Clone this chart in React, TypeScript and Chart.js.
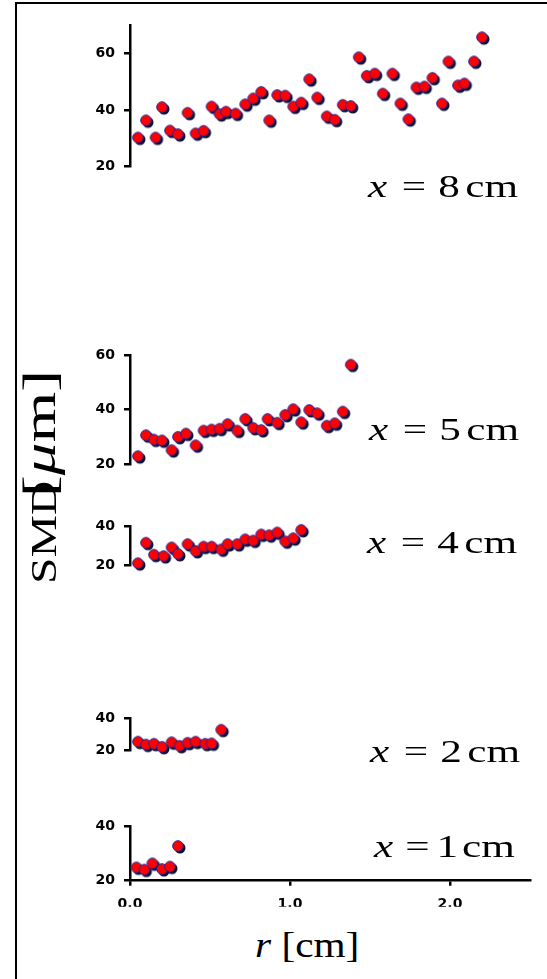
import React, { useEffect, useRef } from 'react';
import { Chart, registerables } from 'chart.js';

Chart.register(...registerables);

// ---------- data ----------
const DISTANCES_CM = ['8', '5', '4', '2', '1'];

const R_8CM = [0.05, 0.10, 0.16, 0.20, 0.25, 0.30, 0.36, 0.41, 0.46, 0.51, 0.56, 0.60, 0.66, 0.72, 0.77, 0.82, 0.87, 0.92, 0.97, 1.02, 1.07, 1.12, 1.17, 1.23, 1.28, 1.33, 1.38, 1.43, 1.48, 1.53, 1.58, 1.64, 1.69, 1.74, 1.79, 1.84, 1.89, 1.95, 1.99, 2.05, 2.09, 2.15, 2.20];
const SMD_8CM = [30.2, 36.3, 30.2, 41.0, 32.7, 31.4, 39.0, 31.7, 32.6, 41.2, 38.5, 39.4, 38.7, 42.0, 44.1, 46.4, 36.3, 45.3, 45.1, 41.2, 42.6, 50.9, 44.4, 37.7, 36.5, 41.8, 41.4, 58.7, 52.1, 52.9, 45.8, 52.9, 42.3, 36.7, 48.0, 48.3, 51.4, 42.3, 57.2, 48.7, 49.4, 57.2, 65.8];

const R_5CM = [0.05, 0.10, 0.15, 0.20, 0.26, 0.30, 0.35, 0.41, 0.46, 0.51, 0.56, 0.61, 0.67, 0.72, 0.77, 0.82, 0.86, 0.92, 0.97, 1.02, 1.07, 1.12, 1.17, 1.23, 1.28, 1.33, 1.38];
const SMD_5CM = [22.9, 30.6, 29.0, 28.7, 25.1, 30.0, 31.2, 26.9, 32.3, 32.7, 33.0, 34.7, 32.3, 36.6, 33.3, 32.5, 36.6, 35.2, 38.1, 40.2, 35.4, 39.9, 38.7, 34.1, 35.0, 39.3, 56.6];

const R_4CM = [0.05, 0.10, 0.15, 0.21, 0.26, 0.30, 0.36, 0.41, 0.46, 0.51, 0.57, 0.61, 0.67, 0.72, 0.77, 0.82, 0.87, 0.92, 0.97, 1.02, 1.07];
const SMD_4CM = [21.3, 31.7, 25.6, 24.9, 29.3, 26.0, 31.0, 27.5, 29.7, 29.7, 28.3, 31.0, 31.0, 33.4, 32.8, 35.9, 35.5, 36.9, 32.4, 34.0, 38.2];

const R_2CM = [0.05, 0.10, 0.15, 0.20, 0.26, 0.31, 0.36, 0.41, 0.47, 0.51, 0.57];
const SMD_2CM = [25.6, 23.8, 24.3, 22.4, 25.2, 23.0, 24.9, 25.6, 24.3, 24.5, 33.0];

const R_1CM = [0.04, 0.09, 0.14, 0.20, 0.25, 0.30];
const SMD_1CM = [24.9, 24.1, 26.4, 24.3, 25.2, 32.8];

const X_TICKS = [0, 1, 2];
const Y_TICKS_TALL = [20, 40, 60];
const Y_TICKS_SHORT = [20, 40];

// ---------- layout / style ----------
const PAGE_W = 547;
const PAGE_H = 979;
const AXIS_LEFT = 130;
const AREA_RIGHT = 530;
const X_AXIS_H = 26;
const SERIF = '"Liberation Serif", "Times New Roman", serif';
const TICK_FONT = { family: '"DejaVu Sans", Arial, sans-serif', size: 14, weight: 'bold' as const };

type PanelDef = {
  r: number[];
  smd: number[];
  yMin: number;
  yMax: number;
  yTicks: number[];
  areaTop: number;
  areaBottom: number;
  showX: boolean;
  label: string;
  labelLeft: number;
  labelBaseline: number;
  gaps: number[];
};

const PANELS: PanelDef[] = [
  { r: R_8CM, smd: SMD_8CM, yMin: 20, yMax: 70, yTicks: Y_TICKS_TALL, areaTop: 22, areaBottom: 192.3, showX: false, label: DISTANCES_CM[0], labelLeft: 368, labelBaseline: 196.7, gaps: [10.8, 9, 4] },
  { r: R_5CM, smd: SMD_5CM, yMin: 20, yMax: 60, yTicks: Y_TICKS_TALL, areaTop: 352, areaBottom: 490, showX: false, label: DISTANCES_CM[1], labelLeft: 369, labelBaseline: 439.3, gaps: [10.8, 9, 4] },
  { r: R_4CM, smd: SMD_4CM, yMin: 20, yMax: 40, yTicks: Y_TICKS_SHORT, areaTop: 523.3, areaBottom: 591.7, showX: false, label: DISTANCES_CM[2], labelLeft: 367, labelBaseline: 552.7, gaps: [10.8, 9, 4] },
  { r: R_2CM, smd: SMD_2CM, yMin: 20, yMax: 40, yTicks: Y_TICKS_SHORT, areaTop: 715, areaBottom: 776.7, showX: false, label: DISTANCES_CM[3], labelLeft: 370, labelBaseline: 761.7, gaps: [10.8, 9, 4] },
  { r: R_1CM, smd: SMD_1CM, yMin: 20, yMax: 40, yTicks: Y_TICKS_SHORT, areaTop: 823.3, areaBottom: 880.7, showX: true, label: DISTANCES_CM[4], labelLeft: 374, labelBaseline: 856.7, gaps: [9, 5, 3] },
];

let dotCache: HTMLCanvasElement | null = null;
function getDot(): HTMLCanvasElement {
  if (dotCache) return dotCache;
  const c = document.createElement('canvas');
  c.width = 18;
  c.height = 18;
  const g = c.getContext('2d')!;
  g.fillStyle = '#0c1233';
  g.beginPath();
  g.arc(11, 11, 5.5, 0, Math.PI * 2);
  g.fill();
  g.fillStyle = '#ff0000';
  g.strokeStyle = '#26269a';
  g.lineWidth = 1;
  g.beginPath();
  g.arc(9, 9, 5.3, 0, Math.PI * 2);
  g.fill();
  g.stroke();
  dotCache = c;
  return c;
}

function Panel({ def }: { def: PanelDef }) {
  const ref = useRef<HTMLCanvasElement>(null);
  const canvasTop = Math.floor(def.areaTop - 14);
  const xAxisH = def.showX ? X_AXIS_H : 0;
  const height = Math.ceil(def.areaBottom - canvasTop + xAxisH + (def.showX ? 6 : 14));

  useEffect(() => {
    const padTop = def.areaTop - canvasTop;
    const padBottom = height - (def.areaBottom - canvasTop) - xAxisH;
    const gridOpts = { display: true, drawOnChartArea: false, drawTicks: true, color: '#000', lineWidth: 2.5 };
    const chart = new Chart(ref.current!, {
      type: 'scatter',
      data: {
        datasets: [
          {
            data: def.r.map((x, i) => ({ x, y: def.smd[i] })),
            pointStyle: getDot() as any,
            pointRadius: 6,
            clip: false as any,
          },
        ],
      },
      options: {
        animation: false,
        responsive: false,
        events: [],
        layout: { padding: { left: 0, right: PAGE_W - AREA_RIGHT, top: padTop, bottom: padBottom } },
        plugins: { legend: { display: false }, tooltip: { enabled: false } },
        scales: {
          x: {
            type: 'linear',
            min: 0,
            max: 2.5,
            display: def.showX,
            afterFit: (s: any) => { s.height = X_AXIS_H; },
            afterBuildTicks: (s: any) => { s.ticks = X_TICKS.map((v) => ({ value: v })); },
            ticks: { callback: (v: any) => Number(v).toFixed(1), font: TICK_FONT, color: '#000', padding: 10, maxRotation: 0 },
            grid: { ...gridOpts, tickLength: 5 },
            border: { display: true, color: '#000', width: 2.5 },
          },
          y: {
            type: 'linear',
            min: def.yMin,
            max: def.yMax,
            afterFit: (s: any) => { s.width = AXIS_LEFT; },
            afterBuildTicks: (s: any) => { s.ticks = def.yTicks.map((v) => ({ value: v })); },
            ticks: { font: TICK_FONT, color: '#000', padding: 9 },
            grid: { ...gridOpts, tickLength: 6 },
            border: { display: true, color: '#000', width: 2.5 },
          },
        },
      },
    });
    return () => chart.destroy();
  }, []);

  return (
    <canvas
      ref={ref}
      width={PAGE_W}
      height={height}
      style={{ position: 'absolute', left: 0, top: canvasTop, width: PAGE_W, height }}
    />
  );
}

function PanelLabel({ def }: { def: PanelDef }) {
  const F = 32;
  return (
    <div
      style={{
        position: 'absolute',
        left: def.labelLeft,
        top: def.labelBaseline - 0.8375 * F,
        fontFamily: SERIF,
        fontSize: F,
        lineHeight: `${F}px`,
        whiteSpace: 'nowrap',
        transform: 'scaleX(1.35)',
        transformOrigin: '0 0',
        color: '#000',
      }}
    >
      <i style={{ marginRight: def.gaps[0] }}>x</i><span style={{ marginRight: def.gaps[1] }}>=</span><span style={{ marginRight: def.gaps[2] }}>{def.label}</span><span>cm</span>
    </div>
  );
}

export default function App() {
  return (
    <div style={{ position: 'absolute', left: 0, top: 0, width: PAGE_W, height: PAGE_H, overflow: 'hidden', background: '#fff' }}>
      <div
        style={{
          position: 'absolute',
          left: 15,
          top: 2,
          width: PAGE_W - 15,
          height: PAGE_H - 2,
          borderTop: '2px solid #000',
          borderLeft: '2px solid #000',
          boxSizing: 'border-box',
        }}
      />
      {PANELS.map((p, i) => (
        <Panel key={'p' + i} def={p} />
      ))}
      {PANELS.map((p, i) => (
        <PanelLabel key={'l' + i} def={p} />
      ))}
      {/* x-axis title */}
      <div
        style={{
          position: 'absolute',
          left: 255,
          top: 957 - 0.8375 * 35,
          fontFamily: SERIF,
          fontSize: 35,
          lineHeight: '35px',
          whiteSpace: 'nowrap',
          transform: 'scaleX(1.18)',
          transformOrigin: '0 0',
          color: '#000',
        }}
      >
        <i>r</i> [cm]
      </div>
      {/* y-axis title */}
      <div
        style={{
          position: 'absolute',
          left: 56 - 0.8375 * 35,
          top: 584,
          fontFamily: SERIF,
          fontSize: 35,
          lineHeight: '35px',
          whiteSpace: 'nowrap',
          transform: 'rotate(-90deg) scaleX(1.36)',
          transformOrigin: '0 0',
          color: '#000',
        }}
      >
        SMD
      </div>
      <div
        style={{
          position: 'absolute',
          left: 56 - 0.8375 * 46,
          top: 497,
          fontFamily: SERIF,
          fontSize: 46,
          lineHeight: '46px',
          whiteSpace: 'nowrap',
          transform: 'rotate(-90deg) scaleX(1.42)',
          transformOrigin: '0 0',
          color: '#000',
        }}
      >
        [<i>μ</i>m]
      </div>
    </div>
  );
}
